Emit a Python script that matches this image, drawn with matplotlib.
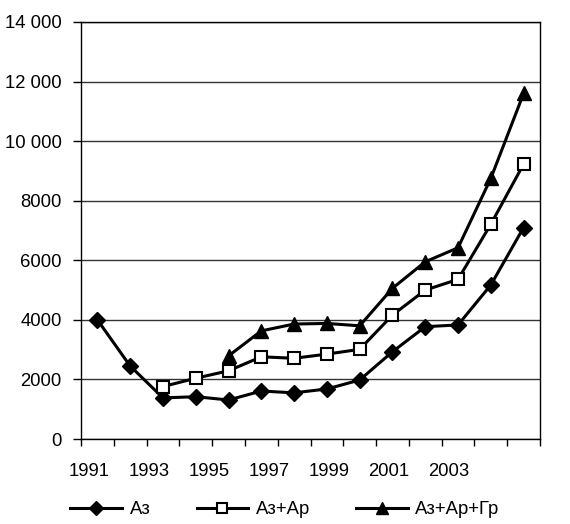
import matplotlib
matplotlib.use('Agg')
import matplotlib.pyplot as plt
import numpy as np

plt.rcParams['font.family'] = ['Liberation Sans', 'DejaVu Sans']

years = [1991, 1992, 1993, 1994, 1995, 1996, 1997, 1998, 1999, 2000, 2001, 2002, 2003, 2004]
az = [4000, 2450, 1380, 1420, 1310, 1610, 1550, 1680, 1980, 2930, 3770, 3830, 5170, 7100]
az_ar = [None, None, 1760, 2040, 2290, 2760, 2710, 2850, 3010, 4160, 5000, 5360, 7210, 9230]
az_ar_gr = [None, None, None, None, 2790, 3630, 3860, 3880, 3800, 5060, 5950, 6420, 8750, 11600]
year_labels = ['1991', '1993', '1995', '1997', '1999', '2001', '2003']
y_ticks = [0, 2000, 4000, 6000, 8000, 10000, 12000, 14000]
y_labels = ['0', '2000', '4000', '6000', '8000', '10 000', '12 000', '14 000']
names = ['Аз', 'Аз+Ар', 'Аз+Ар+Гр']


def to_arr(v):
    return np.array([np.nan if a is None else a for a in v], dtype=float)


fig = plt.figure(figsize=(5.7, 5.24), dpi=100)
ax = fig.add_axes([81 / 570, 85 / 524, 459 / 570, 417 / 524])

x = np.arange(len(years))
ax.plot(x, to_arr(az), color='black', lw=2.2, marker='D', ms=8, label=names[0])
ax.plot(x, to_arr(az_ar), color='black', lw=2.2, marker='s', ms=8,
        mfc='white', mec='black', mew=1.5, label=names[1])
ax.plot(x, to_arr(az_ar_gr), color='black', lw=2.2, marker='^', ms=10, label=names[2])

ax.set_xlim(-0.5, len(years) - 0.5)
ax.set_ylim(0, 14000)

ax.set_yticks(y_ticks)
ax.set_yticklabels(y_labels, fontsize=13.3)
ax.tick_params(axis='y', length=6, width=1, pad=8)
ax.grid(axis='y', color='#333333', lw=1)
ax.set_axisbelow(True)

# tick marks at category borders, year labels every second year
ax.set_xticks(np.arange(len(years) + 1) - 0.5, minor=True)
ax.set_xticks(np.arange(len(year_labels)) * 1.83 - 0.26)
ax.set_xticklabels(year_labels, fontsize=13.3)
ax.tick_params(axis='x', which='major', length=0, pad=17)
ax.tick_params(axis='x', which='minor', length=5, width=1)

for s in ax.spines.values():
    s.set_linewidth(1)
    s.set_color('black')

fig.legend(loc='center', bbox_to_anchor=(0.50, (524 - 510) / 524),
           ncol=3, frameon=False, fontsize=13.3, handlelength=2.8,
           columnspacing=2.5, handletextpad=0.4, markerscale=0.85)

fig.savefig('out.png', dpi=100)
